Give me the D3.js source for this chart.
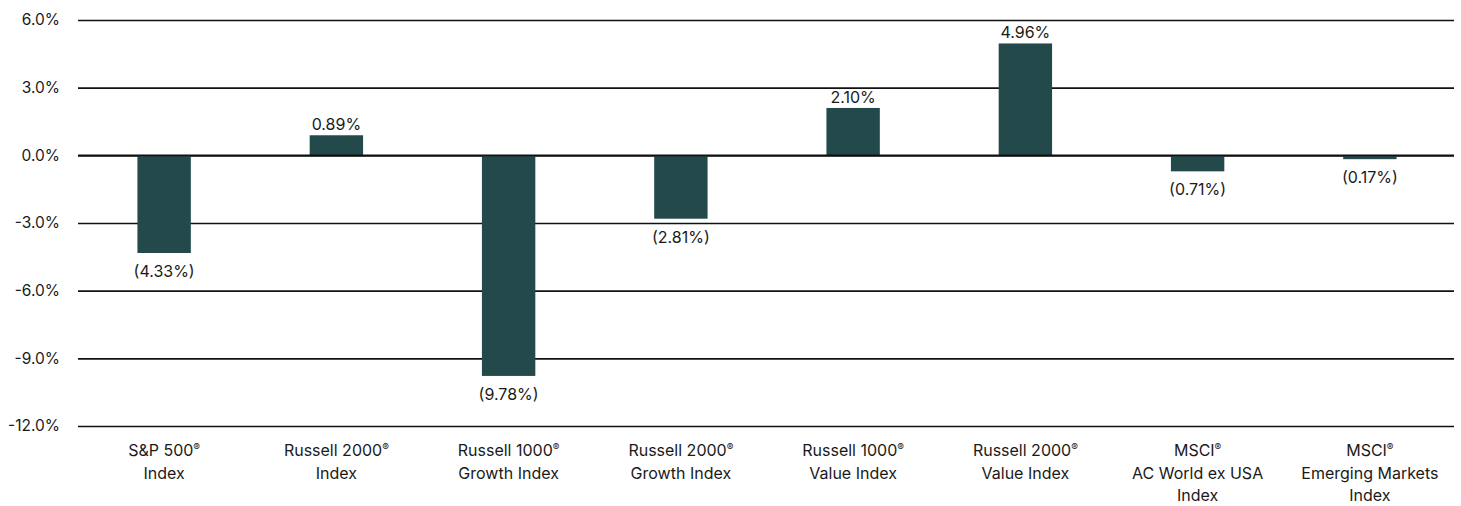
<!DOCTYPE html>
<html>
<head>
<meta charset="utf-8">
<script src="https://cdn.jsdelivr.net/npm/d3@7"></script>
<style>
  body { margin: 0; background: #fff; }
  svg text { font-family: Inter, "Noto Sans", sans-serif; fill: #1a1a1a; }
</style>
</head>
<body>
<div id="chart"></div>
<script>
// data
const categories = [
    ['S&P 500®', 'Index'],
    ['Russell 2000®', 'Index'],
    ['Russell 1000®', 'Growth Index'],
    ['Russell 2000®', 'Growth Index'],
    ['Russell 1000®', 'Value Index'],
    ['Russell 2000®', 'Value Index'],
    ['MSCI®', 'AC World ex USA', 'Index'],
    ['MSCI®', 'Emerging Markets', 'Index']
];
const values = [-4.33, 0.89, -9.78, -2.81, 2.10, 4.96, -0.71, -0.17];
const yTicks = [6, 3, 0, -3, -6, -9, -12];

const width = 1461, height = 506;
const margin = { top: 20, right: 5, bottom: 80, left: 78 };

const svg = d3.select('#chart').append('svg')
    .attr('width', width)
    .attr('height', height);

const x = d3.scaleBand()
    .domain(d3.range(values.length))
    .range([margin.left, width - margin.right])
    .paddingInner(0.69)
    .paddingOuter(0.345);

const y = d3.scaleLinear()
    .domain([-12, 6])
    .range([height - margin.bottom, margin.top]);

// gridlines + y labels
const yAxis = svg.append('g')
    .attr('transform', `translate(${margin.left},0)`)
    .call(d3.axisLeft(y)
        .tickValues(yTicks)
        .tickSize(-(width - margin.left - margin.right - 2))
        .tickPadding(18)
        .tickFormat(d => d.toFixed(1) + '%'));
yAxis.select('.domain').remove();
yAxis.selectAll('.tick line').attr('stroke', '#111').attr('stroke-width', 1.6);
yAxis.selectAll('.tick text').attr('font-size', 15.5).style('fill', '#1a1a1a');

// bars
svg.selectAll('.bar')
    .data(values)
    .join('rect')
    .attr('class', 'bar')
    .attr('x', (d, i) => x(i))
    .attr('width', x.bandwidth())
    .attr('y', d => y(Math.max(0, d)))
    .attr('height', d => Math.abs(y(d) - y(0)))
    .attr('fill', '#23494b');

// redraw zero line on top of bars
svg.append('line')
    .attr('x1', margin.left)
    .attr('x2', width - margin.right - 2)
    .attr('y1', y(0))
    .attr('y2', y(0))
    .attr('stroke', '#111')
    .attr('stroke-width', 1.6);

// value labels
svg.selectAll('.val')
    .data(values)
    .join('text')
    .attr('class', 'val')
    .attr('x', (d, i) => x(i) + x.bandwidth() / 2)
    .attr('y', d => d >= 0 ? y(d) - 5 : y(d) + 24)
    .attr('text-anchor', 'middle')
    .attr('font-size', 16)
    .text(d => d >= 0 ? d.toFixed(2) + '%' : '(' + Math.abs(d).toFixed(2) + '%)');

// category labels, one text per line, ® as a small superscript
const baseY = y(-12) + 30;
const lineH = 22.5;
const catGroups = svg.selectAll('.cat')
    .data(categories)
    .join('g')
    .attr('class', 'cat')
    .attr('transform', (d, i) => `translate(${x(i) + x.bandwidth() / 2},${baseY})`);
catGroups.each(function (lines) {
    const g = d3.select(this);
    lines.forEach((line, i) => {
        const parts = line.split('®');
        const t = g.append('text')
            .attr('y', i * lineH)
            .attr('text-anchor', 'middle')
            .attr('font-size', 16)
            .text(parts[0]);
        if (parts.length > 1) {
            t.append('tspan')
                .attr('font-size', 10)
                .attr('dy', -5)
                .text('®');
        }
    });
});
</script>
</body>
</html>
